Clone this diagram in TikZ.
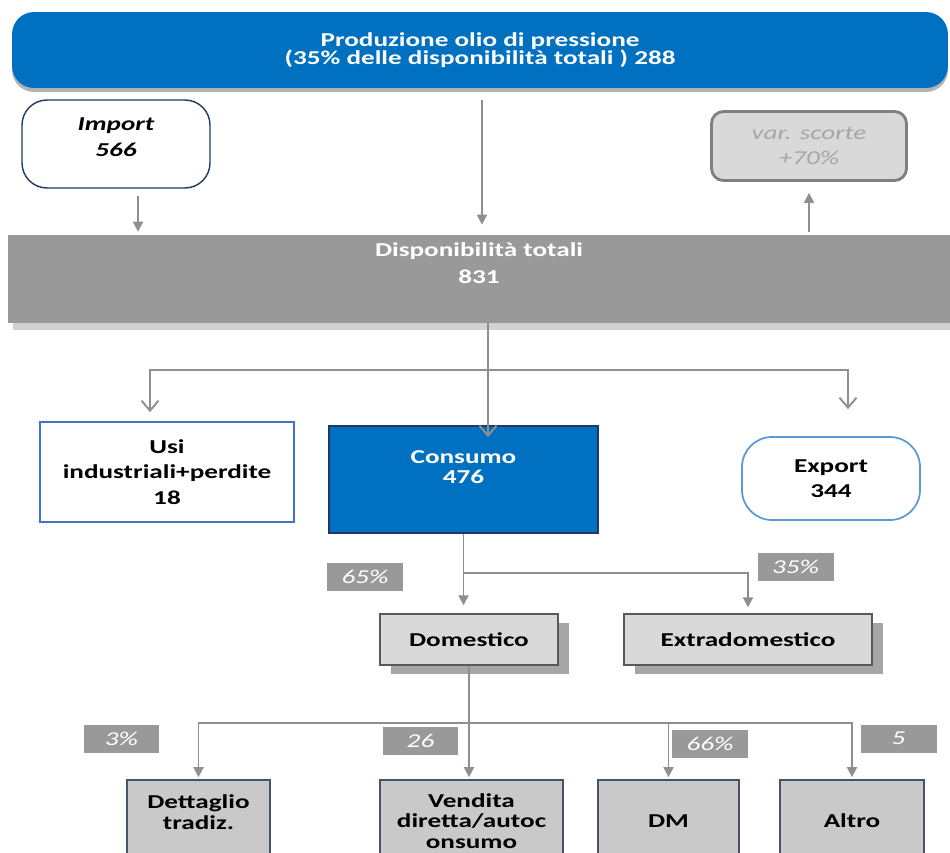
\documentclass[tikz,border=0pt]{standalone}
\usepackage{fontspec}
\setmainfont{Carlito}[FakeStretch=1.38]
\usetikzlibrary{arrows.meta,shadows}

\definecolor{oilblue}{HTML}{0070C0}
\definecolor{navy}{HTML}{1F3864}
\definecolor{usiblue}{HTML}{4472C4}
\definecolor{expblue}{HTML}{5B9BD5}
\definecolor{bargray}{HTML}{999999}
\definecolor{lightg}{HTML}{D9D9D9}
\definecolor{lowg}{HTML}{C9C9C9}
\definecolor{midg}{HTML}{7F7F7F}
\definecolor{darkg}{HTML}{595959}
\definecolor{slate}{HTML}{44546A}
\definecolor{linkgray}{HTML}{8F8F8F}

\tikzset{
    base/.style={align=center, inner sep=0pt, font=\bfseries\fontsize{11.2}{14.5}\selectfont},
    tight/.style={font=\bfseries\fontsize{11.2}{11.6}\selectfont},
    midbox/.style={base, fill=lightg, draw=darkg, line width=0.8pt, minimum height=1.02cm,
        drop shadow={shadow xshift=0.22cm, shadow yshift=-0.18cm, fill=black!35, opacity=1}},
    lowbox/.style={base, tight, fill=lowg, draw=slate, line width=1pt, minimum height=1.64cm},
    tag/.style={fill=bargray, text=white, inner sep=0pt, minimum width=1.52cm, minimum height=0.56cm,
        font=\itshape\fontsize{11.2}{13}\selectfont},
    link/.style={draw=linkgray, line width=1.1pt},
    fillarr/.style={link, -{Triangle[length=0.2cm,width=0.2cm]}},
    openarr/.style={link, -{Straight Barb[length=0.2cm,width=0.34cm]}}
}

\begin{document}
\begin{tikzpicture}[x=0.02cm, y=-0.02cm]
        \useasboundingbox (0,0) rectangle (950,852);
        \clip (0,0) rectangle (950,852);
        \fill[white] (0,0) rectangle (950,852);
    % Top
        \node[base, fill=oilblue, text=white, rounded corners=0.44cm, minimum width=18.72cm, minimum height=1.52cm,
            font=\bfseries\fontsize{11.2}{10.6}\selectfont,
            drop shadow={shadow xshift=0cm, shadow yshift=-0.08cm, fill=black!30, opacity=1}]
            (prod) at (480,50) {Produzione olio di pressione\\(35\% delle disponibilità totali ) 288};
        \node[base, draw=navy, line width=0.8pt, rounded corners=0.5cm, minimum width=3.76cm, minimum height=1.76cm,
            text depth=0.28cm, font=\bfseries\itshape\fontsize{11.2}{14.5}\selectfont] (import) at (116,144) {Import\\566};
        \node[base, fill=lightg, draw=midg, line width=1.6pt, rounded corners=0.24cm, minimum width=3.9cm, minimum height=1.38cm,
            text=black!35, font=\itshape\fontsize{11.2}{14.5}\selectfont] (scorte) at (809,146) {var. scorte\\+70\%};
    % Disponibilita
        \node[base, fill=bargray, text=white, minimum width=18.84cm, minimum height=1.76cm, text depth=0.64cm,
            font=\bfseries\fontsize{11.2}{15.4}\selectfont,
            drop shadow={shadow xshift=0.1cm, shadow yshift=-0.14cm, fill=black!18, opacity=1}]
            (disp) at (479,279) {Disponibilità totali\\831};
    % Second row
        \node[base, draw=usiblue, line width=1pt, minimum width=5.08cm, minimum height=2cm]
            (usi) at (167,472) {Usi\\industriali+perdite\\18};
        \node[base, tight, fill=oilblue, draw=navy, line width=1pt, text=white, minimum width=5.38cm, minimum height=2.14cm,
            text depth=0.5cm] (consumo) at (463.5,479.5) {Consumo\\476};
        \node[base, draw=expblue, line width=1pt, rounded corners=0.6cm, minimum width=3.56cm, minimum height=1.66cm]
            (export) at (831,478.5) {Export\\344};
    % Third row
        \node[midbox, minimum width=3.56cm] (domestico) at (469,639.5) {Domestico};
        \node[midbox, minimum width=4.96cm] (extra) at (748,639.5) {Extradomestico};
    % Bottom row
        \node[lowbox, minimum width=2.86cm, text depth=0.36cm] (dett) at (198.5,821) {Dettaglio\\tradiz.};
        \node[lowbox, minimum width=3.66cm] (vend) at (471.5,821) {Vendita\\diretta/autoc\\onsumo};
        \node[lowbox, minimum width=2.82cm] (dm) at (668.5,821) {DM};
        \node[lowbox, minimum width=2.88cm] (altro) at (852,821) {Altro};
    % Arrows top
        \draw[fillarr, shorten <=0.14cm, shorten >=0.06cm] ([xshift=0.44cm]import.south) -- ([xshift=0.44cm]import.south |- disp.north);
        \draw[fillarr, shorten <=0.24cm, shorten >=0.2cm] ([xshift=0.04cm]prod.south) -- ([xshift=0.04cm]prod.south |- disp.north);
        \draw[fillarr, shorten <=0.06cm, shorten >=0.22cm] (scorte.south |- disp.north) -- (scorte.south);
    % Arrows from disponibilita
        \coordinate (split) at (488,370);
        \coordinate (usi-in) at ([xshift=-0.34cm, yshift=0.18cm]usi.north);
        \coordinate (exp-in) at ([xshift=0.34cm, yshift=0.54cm]export.north);
        \coordinate (cons-top) at (consumo.north -| split);
        \draw[link] (disp.south -| split) -- (split);
        \draw[openarr] (split) -- ([yshift=-0.24cm]cons-top);
        \draw[openarr] (split) -| (usi-in);
        \draw[openarr] (split) -| (exp-in);
    % Arrows from consumo
        \coordinate (csplit) at ([yshift=-0.78cm]consumo.south);
        \draw[link] (consumo.south) -- (csplit);
        \draw[fillarr, shorten >=0.16cm] (csplit) -- (csplit |- domestico.north);
        \draw[fillarr, shorten >=0.12cm] (csplit) -| (extra.north);
    % Arrows from domestico
        \coordinate (dsplit) at ([yshift=-1.14cm]domestico.south);
        \draw[link, line width=1.6pt] (domestico.south) -- (dsplit);
        \draw[fillarr, shorten >=0.04cm] (dsplit) -- (dsplit |- vend.north);
        \foreach \b in {dett,dm,altro}
            \draw[fillarr, shorten >=0.04cm] (dsplit) -| (\b.north);
    % Tags
        \node[tag] (t65) at (365,576.5) {65\%};
        \node[tag] (t35) at (795.5,567) {35\%};
        \node[tag] (t3) at (121.5,738.5) {3\%};
        \node[tag] (t26) at (420.5,741) {26};
        \node[tag] (t66) at (710,743.5) {66\%};
        \node[tag] (t5) at (898.5,738.5) {5};
\end{tikzpicture}
\end{document}
